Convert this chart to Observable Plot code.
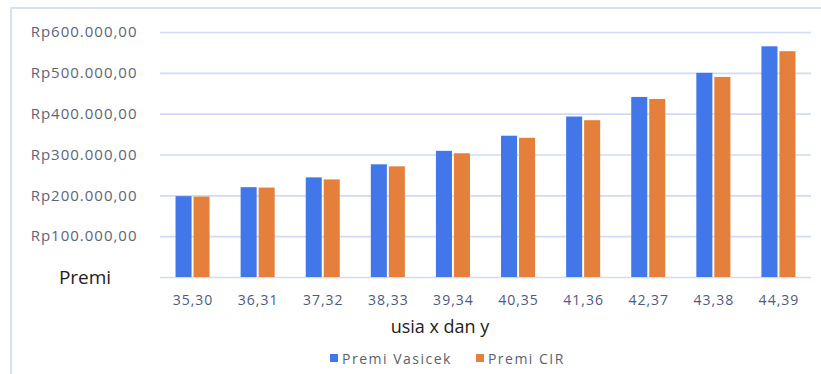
<!DOCTYPE html>
<html><head><meta charset="utf-8">
<script src="https://cdn.jsdelivr.net/npm/d3@7"></script>
<script src="https://cdn.jsdelivr.net/npm/@observablehq/plot@0.6"></script>
<style>
body{margin:0;background:#fff;font-family:"Open Sans",sans-serif;}
#wrap{position:relative;width:821px;height:374px;overflow:hidden;background:#fff;}
#frame{position:absolute;left:10px;top:7px;right:-5px;bottom:-5px;border-left:2px solid #d6dffa;border-top:2px solid #d6dffa;}
#chart{position:absolute;left:0;top:0;}
#chart svg text{letter-spacing:1px;}
.t{position:absolute;white-space:nowrap;transform:translate(-50%,-50%);color:#222;}
#premi{left:85px;top:277px;font-size:19px;}
#xtitle{left:440px;top:326px;font-size:18px;}
#legend{position:absolute;left:330px;top:348px;height:20px;display:flex;align-items:center;font-size:14px;color:#5a5f6e;letter-spacing:1.5px;}
#legend .sw{width:8px;height:8px;display:inline-block;margin-right:4px;}
#legend .it{display:flex;align-items:center;margin-right:24px;}
</style></head><body>
<div id="wrap"><div id="frame"></div><div id="chart"></div>
<div class="t" id="premi">Premi</div>
<div class="t" id="xtitle">usia x dan y</div>
<div id="legend"></div>
</div>
<script>
const categories = ["35,30","36,31","37,32","38,33","39,34","40,35","41,36","42,37","43,38","44,39"];
const vasicek = [198000, 220000, 244000, 276000, 309000, 346000, 393000, 441000, 500000, 565000];
const cir     = [197000, 219000, 239000, 271000, 303000, 341000, 384000, 436000, 490000, 553000];
const seriesNames = ["Premi Vasicek", "Premi CIR"];
const colors = ["#4277e9", "#e5803c"];
const yTicks = [100000, 200000, 300000, 400000, 500000, 600000];
const gridTicks = [0, 100000, 200000, 300000, 400000, 500000, 600000];

const rows = categories.flatMap((c, i) => [
  {cat: c, series: seriesNames[0], value: vasicek[i]},
  {cat: c, series: seriesNames[1], value: cir[i]}
]);
const fmt = d3.formatLocale({decimal: ",", thousands: ".", grouping: [3], currency: ["Rp", ""]}).format("$,.2f");

const chart = Plot.plot({
  width: 821, height: 320,
  marginTop: 32, marginBottom: 43, marginLeft: 160, marginRight: 10,
  style: {background: "transparent", fontFamily: "Open Sans", overflow: "visible"},
  x: {domain: categories, paddingInner: 0.477, paddingOuter: 0.2385, round: false, axis: null},
  y: {domain: [0, 600000], axis: null},
  color: {domain: seriesNames, range: colors},
  marks: [
    Plot.ruleY(gridTicks, {stroke: "#d0dbf8", strokeWidth: 1.6}),
    Plot.barY(rows.filter(d => d.series === seriesNames[0]), {x: "cat", y: "value", fill: "series", insetRight: 18}),
    Plot.barY(rows.filter(d => d.series === seriesNames[1]), {x: "cat", y: "value", fill: "series", insetLeft: 18}),
    Plot.axisY({ticks: yTicks, tickFormat: fmt, tickSize: 0, tickPadding: 23, fontSize: 15, fill: "#5d6479", label: null}),
    Plot.axisX({tickSize: 0, tickPadding: 18, fontSize: 14, fill: "#4c5a86", label: null})
  ]
});
document.getElementById("chart").appendChild(chart);

const legend = document.getElementById("legend");
seriesNames.forEach((n, i) => {
  const it = document.createElement("span");
  it.className = "it";
  const sw = document.createElement("span");
  sw.className = "sw";
  sw.style.background = colors[i];
  it.appendChild(sw);
  it.appendChild(document.createTextNode(n));
  legend.appendChild(it);
});
</script>
</body></html>
